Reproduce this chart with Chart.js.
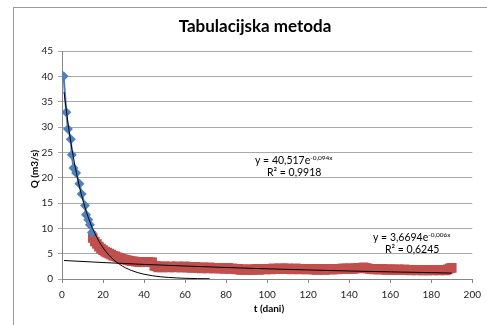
<!DOCTYPE html>
<html>
<head>
<meta charset="utf-8">
<script src="https://cdn.jsdelivr.net/npm/chart.js@4.4.1/dist/chart.umd.min.js"></script>
<style>
  html, body { margin: 0; padding: 0; background: #fff; }
  #wrap { width: 487px; height: 325px; position: relative; }
</style>
</head>
<body>
<div id="wrap"><canvas id="c" width="487" height="325"></canvas></div>
<script>
// ---- data ----
const chartTitle = "Tabulacijska metoda";
const xAxisTitle = "t (dani)";
const yAxisTitle = "Q (m3/s)";

// blue measured points (day, Q)
const blueDays = [0.8, 2.1, 2.9, 4.3, 4.8, 5.6, 6.9, 8.5, 9.6, 11.2, 11.7, 12.8, 13.6, 14.6];
const blueQ    = [40.0, 32.9, 29.6, 27.6, 24.5, 21.9, 20.9, 18.8, 16.8, 14.5, 12.7, 11.7, 10.7, 9.2];

// red measured points, daily from day 15 to day 190
const redFirstDay = 15;
const redQ = [
  8.1, 7.4, 6.9, 6.4, 6.0, 5.7, 5.4, 5.2, 5.0, 4.8, 4.6, 4.5, 4.3, 4.2, 4.0, 3.9, 3.8, 3.7, 3.6, 3.5, 3.5, 3.4, 3.4, 3.3, 3.3, 3.3, 3.4, 3.4, 3.3, 3.3,
  2.6, 2.5, 2.3, 2.5, 2.3, 2.5, 2.4, 2.3, 2.5, 2.4, 2.3, 2.5, 2.4, 2.3, 2.3, 2.5,
  2.3, 2.4, 2.2, 2.3, 2.4, 2.2, 2.3, 2.1, 2.3, 2.2, 2.1, 2.3, 2.2, 2.1, 2.1,
  2.2, 2.1, 2.2, 2.0, 2.1, 2.2, 2.0, 2.1, 2.0, 1.9, 2.0, 1.8, 1.9, 1.8, 1.9,
  1.8, 1.9, 1.8, 1.9, 2.0, 1.8, 1.9, 2.0, 1.9, 2.0, 2.0, 1.9, 2.1, 2.0, 2.0,
  2.1, 2.0, 2.1, 2.0, 2.1, 2.0, 1.9, 2.0, 2.1, 2.0, 1.9, 2.0, 2.0, 1.9, 2.0,
  1.9, 2.0, 1.9, 1.8, 1.9, 2.0, 1.9, 1.8, 1.9, 2.0, 1.9, 1.9, 2.0, 1.9, 2.0,
  2.0, 2.1, 2.0, 2.1, 2.0, 2.1, 2.0, 2.1, 2.2, 2.1, 2.2, 2.3, 2.2, 2.1, 2.0,
  2.0, 1.9, 2.0, 1.9, 1.9, 2.0, 1.9, 1.8, 1.9, 1.9, 1.8, 1.9, 1.8, 1.9, 1.8,
  1.8, 1.9, 1.8, 1.8, 1.7, 1.8, 1.8, 1.7, 1.8, 1.8, 1.7, 1.8, 1.7, 1.8, 1.8,
  1.7, 1.8, 1.8, 1.7, 1.8, 1.8, 1.7, 1.9, 2.1, 2.2
];

// trendline 1 (y = 40,517e^-0,094x) sampled points
const trend1Days = [1, 3, 5, 7, 9, 11, 13, 15, 17, 19, 21, 23, 25, 28, 31, 34, 37, 40, 44, 48, 52, 56, 60, 66, 72];
const trend1Q    = [36.88, 30.56, 25.32, 20.99, 17.39, 14.41, 11.94, 9.89, 8.20, 6.79, 5.63, 4.66, 3.86, 2.91, 2.20, 1.66, 1.25, 0.94, 0.65, 0.44, 0.31, 0.21, 0.14, 0.08, 0.05];

// trendline 2 (y = 3,6694e^-0,006x) sampled points
const trend2Days = [1, 20, 40, 60, 80, 100, 120, 140, 160, 180, 190];
const trend2Q    = [3.65, 3.25, 2.88, 2.56, 2.27, 2.01, 1.79, 1.58, 1.41, 1.25, 1.17];

const xTicks = [0, 20, 40, 60, 80, 100, 120, 140, 160, 180, 200];
const yTicks = [0, 5, 10, 15, 20, 25, 30, 35, 40, 45];

const eq1 = { main: "y = 40,517e", sup: "-0,094x", r2: "R² = 0,9918" };
const eq2 = { main: "y = 3,6694e", sup: "-0,006x", r2: "R² = 0,6245" };

// ---- build datasets ----
const pairs = (xs, ys) => ys.map((y, i) => ({ x: xs[i], y }));
const redPts = redQ.map((y, i) => ({ x: redFirstDay + i, y }));

const FONT = "Lato, 'Open Sans', sans-serif";

const overlay = {
  id: 'overlay',
  beforeDraw(chart) {
    const ctx = chart.ctx;
    ctx.save();
    ctx.fillStyle = '#fff';
    ctx.fillRect(0, 0, chart.width, chart.height);
    ctx.strokeStyle = '#9a9a9a';
    ctx.lineWidth = 1;
    ctx.strokeRect(13.5, 7.5, 500, 400);
    ctx.restore();
  },
  afterDraw(chart) {
    const ctx = chart.ctx;
    ctx.save();
    ctx.fillStyle = '#000';
    ctx.textBaseline = 'middle';
    ctx.textAlign = 'center';
    ctx.font = "bold 17px " + FONT;
    ctx.fillText(chartTitle, 255, 27);
    ctx.font = "bold 10px " + FONT;
    ctx.fillText(xAxisTitle, 269, 309);
    ctx.save();
    ctx.translate(35, 169);
    ctx.rotate(-Math.PI / 2);
    ctx.fillText(yAxisTitle, 0, 0);
    ctx.restore();

    const drawEq = (eq, x, y, r2x) => {
      ctx.textAlign = 'left';
      ctx.font = "10.5px " + FONT;
      ctx.fillText(eq.main, x, y);
      const w = ctx.measureText(eq.main).width;
      ctx.font = "6.5px " + FONT;
      ctx.fillText(eq.sup, x + w, y - 3.5);
      ctx.font = "10.5px " + FONT;
      ctx.fillText(eq.r2, r2x, y + 12);
    };
    drawEq(eq1, 255, 161, 267);
    drawEq(eq2, 373, 238, 385);
    ctx.restore();
  }
};

new Chart(document.getElementById('c'), {
  type: 'scatter',
  data: {
    datasets: [
      { data: pairs(trend1Days, trend1Q), showLine: true, borderColor: '#000', borderWidth: 1,
        pointRadius: 0, cubicInterpolationMode: 'monotone', fill: false },
      { data: pairs(trend2Days, trend2Q), showLine: true, borderColor: '#000', borderWidth: 1,
        pointRadius: 0, fill: false },
      { data: pairs(blueDays, blueQ), showLine: true, borderColor: '#4A7EBB', borderWidth: 2,
        pointStyle: 'rectRot', pointRadius: 5, backgroundColor: '#4F81BD', pointBorderWidth: 0, fill: false },
      { data: redPts, showLine: false, pointStyle: 'rect', pointRadius: 6.8,
        backgroundColor: '#C0504D', borderColor: '#C0504D', pointBorderWidth: 0 }
    ]
  },
  options: {
    responsive: false,
    animation: false,
    events: [],
    layout: { padding: { left: 0, right: 10, top: 51, bottom: 0 } },
    plugins: { legend: { display: false }, tooltip: { enabled: false }, title: { display: false } },
    scales: {
      x: {
        type: 'linear', min: 0, max: 200,
        afterFit(s) { s.height = 46; },
        afterBuildTicks(s) { s.ticks = xTicks.map(v => ({ value: v })); },
        grid: { drawOnChartArea: false, drawTicks: true, tickLength: 4, color: '#868686' },
        border: { display: true, color: '#868686' },
        ticks: { font: { family: FONT, size: 10 }, color: '#222', padding: 6, maxRotation: 0 }
      },
      y: {
        type: 'linear', min: 0, max: 45,
        afterFit(s) { s.width = 62; },
        afterBuildTicks(s) { s.ticks = yTicks.map(v => ({ value: v })); },
        grid: { drawOnChartArea: true, drawTicks: true, tickLength: 4, color: '#a8a8a8' },
        border: { display: true, color: '#868686' },
        ticks: { font: { family: FONT, size: 10 }, color: '#222', padding: 5 }
      }
    }
  },
  plugins: [overlay]
});
</script>
</body>
</html>
